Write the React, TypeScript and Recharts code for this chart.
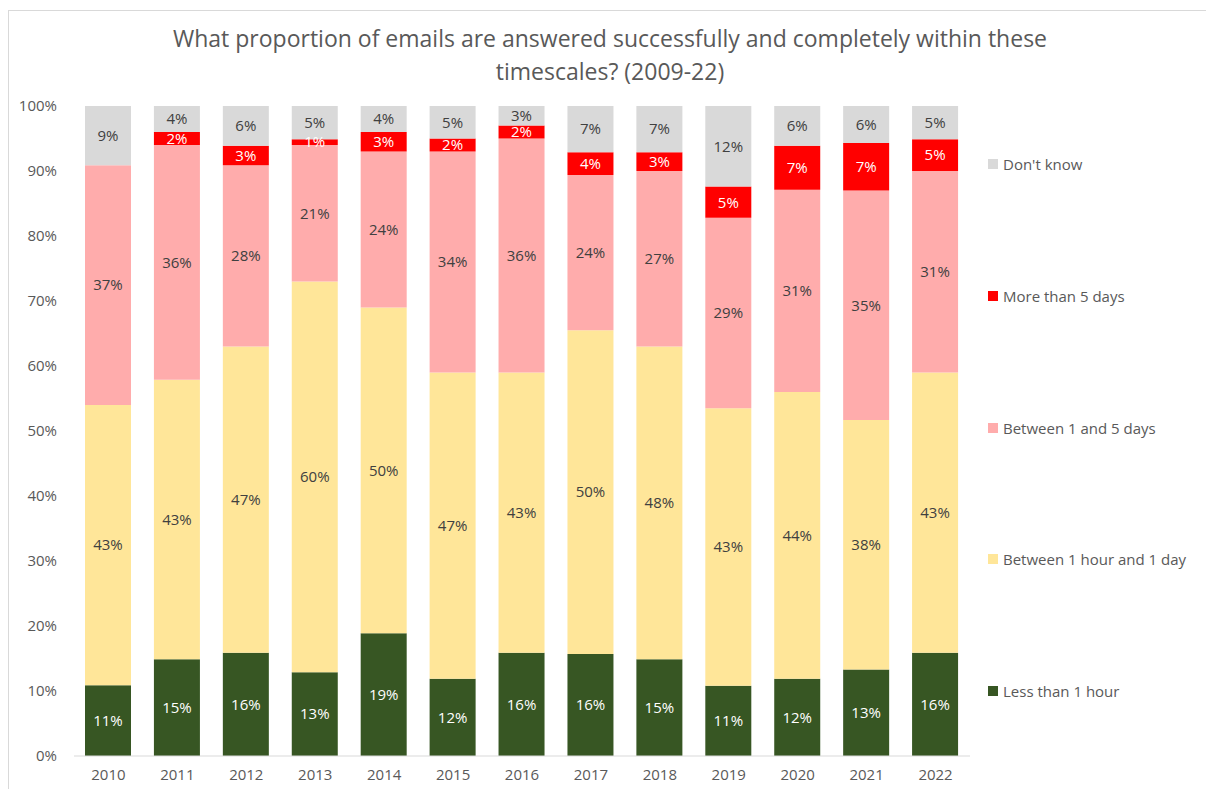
import React from 'react';
import { BarChart, Bar, XAxis, YAxis, Legend, LabelList } from 'recharts';

// years on the x axis
const years = ['2010', '2011', '2012', '2013', '2014', '2015', '2016', '2017', '2018', '2019', '2020', '2021', '2022'];

// share of emails (%) per timescale
const lessThanHour = [10.9, 14.9, 15.9, 12.9, 18.9, 11.9, 15.9, 15.7, 14.9, 10.8, 11.9, 13.3, 15.9];
const hourToDay = [43.1, 43.0, 47.1, 60.1, 50.1, 47.1, 43.1, 49.8, 48.1, 42.7, 44.1, 38.4, 43.1];
const oneToFiveDays = [36.9, 36.1, 27.9, 21.0, 24.0, 34.0, 36.0, 23.9, 27.0, 29.3, 31.1, 35.3, 31.0];
const moreThanFiveDays = [0, 2.0, 3.0, 0.9, 3.0, 2.0, 2.0, 3.5, 2.9, 4.8, 6.8, 7.3, 4.9];
const dontKnow = [9.1, 4.0, 6.1, 5.1, 4.0, 5.0, 3.0, 7.1, 7.1, 12.4, 6.1, 5.7, 5.1];

const yTicks = [0, 10, 20, 30, 40, 50, 60, 70, 80, 90, 100];

const series = [
  { key: 'lt1h', name: 'Less than 1 hour', color: '#375623', label: '#ffffff' },
  { key: 'h1d', name: 'Between 1 hour and 1 day', color: '#ffe699', label: '#404040' },
  { key: 'd15', name: 'Between 1 and 5 days', color: '#ffacac', label: '#404040' },
  { key: 'gt5d', name: 'More than 5 days', color: '#ff0000', label: '#ffffff' },
  { key: 'dk', name: "Don't know", color: '#d9d9d9', label: '#404040' },
];

const data = years.map((year, i) => ({
  year,
  lt1h: lessThanHour[i],
  h1d: hourToDay[i],
  d15: oneToFiveDays[i],
  gt5d: moreThanFiveDays[i],
  dk: dontKnow[i],
}));

const FONT = '"Open Sans", sans-serif';

// legend drawn in a zero-width wrapper so it reserves no room in the plot
const LegendBox = () => (
  <div style={{ position: 'relative', width: 0, height: 560, fontFamily: FONT }}>
    {[...series].reverse().map((s, i) => (
      <div
        key={s.key}
        style={{ position: 'absolute', left: 0, top: i * 131.8, display: 'flex', alignItems: 'center', height: 20, whiteSpace: 'nowrap' }}
      >
        <span style={{ display: 'inline-block', width: 10, height: 10, background: s.color, marginRight: 5 }} />
        <span style={{ fontSize: 15, color: '#595959' }}>{s.name}</span>
      </div>
    ))}
  </div>
);

export default function App() {
  return (
    <div style={{ position: 'absolute', left: 0, top: 0, width: 1206, height: 789, background: '#fff', overflow: 'hidden' }}>
      <div style={{ position: 'absolute', left: 8, top: 10, width: 1210, height: 800, border: '1px solid #d9d9d9' }} />
      <div
        style={{
          position: 'absolute', left: 0, top: 22, width: 1220, textAlign: 'center',
          fontFamily: FONT, fontSize: 23, color: '#595959', lineHeight: '33px',
        }}
      >
        What proportion of emails are answered successfully and completely within these<br />timescales? (2009-22)
      </div>
      <div style={{ position: 'absolute', left: 0, top: 0 }}>
        <BarChart
          width={1206}
          height={789}
          data={data}
          margin={{ top: 106, right: 236, bottom: 3, left: 14 }}
          barSize={46}
        >
          <XAxis
            dataKey="year"
            height={30}
            axisLine={{ stroke: '#d9d9d9' }}
            tickLine={false}
            tickMargin={7}
            tick={{ fill: '#595959', fontSize: 15, fontFamily: FONT }}
          />
          <YAxis
            width={60}
            domain={[0, 100]}
            ticks={yTicks}
            interval={0}
            axisLine={false}
            tickLine={false}
            tickMargin={11}
            tickFormatter={(v) => `${v}%`}
            tick={{ fill: '#595959', fontSize: 15, fontFamily: FONT }}
          />
          <Legend
            layout="vertical"
            verticalAlign="top"
            align="right"
            content={<LegendBox />}
            wrapperStyle={{ position: 'absolute', left: 988, top: 154, width: 0, height: 0, overflow: 'visible' }}
          />
          {series.map((s) => (
            <Bar key={s.key} dataKey={s.key} name={s.name} stackId="a" fill={s.color} isAnimationActive={false}>
              <LabelList
                dataKey={s.key}
                position="center"
                fill={s.label}
                fontSize={15}
                fontFamily={FONT}
                formatter={(v: any) => (v > 0 ? `${Math.round(v)}%` : '')}
              />
            </Bar>
          ))}
        </BarChart>
      </div>
    </div>
  );
}
